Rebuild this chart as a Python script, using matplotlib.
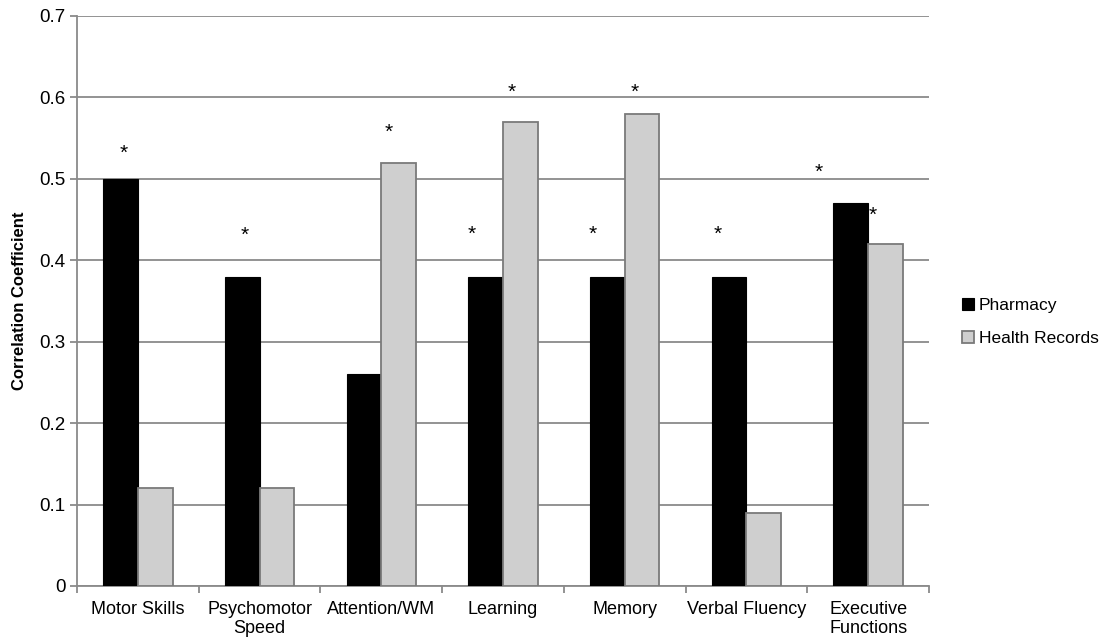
import numpy as np
import matplotlib.pyplot as plt

categories = ['Motor Skills', 'Psychomotor\nSpeed', 'Attention/WM', 'Learning',
              'Memory', 'Verbal Fluency', 'Executive\nFunctions']
pharmacy = [0.50, 0.38, 0.26, 0.38, 0.38, 0.38, 0.47]
health_records = [0.12, 0.12, 0.52, 0.57, 0.58, 0.09, 0.42]

# significance stars: category index, offset from category centre, height
star_cat = [0, 1, 2, 3, 3, 4, 4, 5, 6, 6]
star_off = [-0.12, -0.12, 0.06, -0.26, 0.07, -0.26, 0.08, -0.24, -0.41, 0.04]
star_y = [0.531, 0.431, 0.557, 0.432, 0.606, 0.432, 0.606, 0.432, 0.508, 0.455]

plt.rcParams['font.family'] = ['Liberation Sans', 'DejaVu Sans']

fig = plt.figure(figsize=(11.06, 6.4), dpi=100)
ax = fig.add_axes([0.0696, 0.0844, 0.7704, 0.8906])

x = np.arange(len(categories))
w = 0.285
ax.bar(x - w/2, pharmacy, w, color='black', edgecolor='black', lw=0.8,
       label='Pharmacy', zorder=3)
ax.bar(x + w/2, health_records, w, color='#cfcfcf', edgecolor='#7a7a7a', lw=1.3,
       label='Health Records', zorder=3)

for c, o, y in zip(star_cat, star_off, star_y):
    ax.text(c + o, y, '*', ha='center', va='center', fontsize=15, zorder=4)

ax.set_xlim(-0.5, len(categories) - 0.5)
ax.set_ylim(0, 0.7)
ax.set_yticks(np.arange(0, 0.71, 0.1))
ax.set_yticklabels(['0'] + ['%.1f' % v for v in np.arange(0.1, 0.71, 0.1)])
ax.yaxis.grid(True, color='#8a8a8a', lw=1.3, zorder=0)
ax.set_axisbelow(True)

ax.set_xticks(x)
ax.set_xticklabels(categories, fontsize=13, linespacing=1.15)
ax.set_xticks(np.arange(-0.5, len(categories), 1), minor=True)
ax.tick_params(axis='x', which='major', length=0, pad=11)
ax.tick_params(axis='x', which='minor', length=5, width=1.3, color='#8a8a8a', direction='out')
ax.tick_params(axis='y', length=5, width=1.3, color='#8a8a8a', labelsize=13.5, pad=3)

for s in ['top', 'right']:
    ax.spines[s].set_visible(False)
for s in ['left', 'bottom']:
    ax.spines[s].set_color('#8a8a8a')
    ax.spines[s].set_linewidth(1.3)

ax.set_ylabel('Correlation Coefficient', fontsize=12, fontweight='bold', labelpad=9)

ax.legend(loc='center left', bbox_to_anchor=(1.02, 0.463), frameon=False,
          fontsize=12.5, handlelength=0.7, handleheight=0.7, handletextpad=0.3,
          labelspacing=1.05)

fig.savefig('out.png', dpi=100)
